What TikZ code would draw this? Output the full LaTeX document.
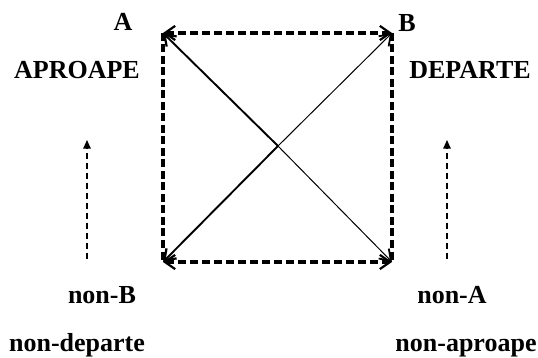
\documentclass[tikz,border=0pt]{standalone}
\usepackage{fontspec}
\setmainfont{Liberation Serif}
\usetikzlibrary{arrows.meta,positioning}
\tikzset{
  sqarr/.style={{Straight Barb[length=3.6mm,width=5mm,line width=2.2pt]}-{Straight Barb[length=3.6mm,width=5mm,line width=2.2pt]},
                black, line width=3.2pt, dash pattern=on 8pt off 4pt},
  side/.style={black, line width=3.4pt, dash pattern=on 8pt off 3.5pt},
  diagthick/.style={-{Straight Barb[length=3.6mm,width=5mm,line width=2.2pt]}, black, line width=1.9pt},
  diagthin/.style={-{Straight Barb[length=3.6mm,width=5mm,line width=1.8pt]}, black, line width=1pt},
  hint/.style={-{Triangle[length=3mm,width=2.6mm]}, black, line width=1.3pt, dash pattern=on 6pt off 4pt},
  lbl/.style={font=\bfseries\fontsize{26}{29}\selectfont, inner sep=0pt, anchor=base},
}
\begin{document}
\begin{tikzpicture}[x=1pt, y=-1pt]
    \useasboundingbox (0,0) rectangle (538,358);
    % corners of the square and its centre
    \coordinate (tl) at (163,33); \coordinate (tr) at (392,33);
    \coordinate (bl) at (163,262); \coordinate (br) at (392,262);
    \coordinate (mid) at (278,146);
    \draw[side] (tl) -- (bl);
    \draw[side] (tr) -- (br);
    \draw[sqarr] (tl) -- (tr);
    \draw[sqarr] (bl) -- (br);
    \draw[diagthick] (mid) -- (tl);
    \draw[diagthick] (mid) -- (bl);
    \draw[diagthin] (mid) -- (tr);
    \draw[diagthin] (mid) -- (br);
    % labels
    \node[lbl] (a) at (123,31) {A};
    \node[lbl] (b) at (407,32) {B};
    \node[lbl] (aproape) at (77,79) {APROAPE};
    \node[lbl] (departe) at (470,79) {DEPARTE};
    \node[lbl] (nonb) at (102,303) {non-B};
    \node[lbl] (nona) at (452,303) {non-A};
    \node[lbl] (nondep) at (77,351) {non-departe};
    \node[lbl] (nonapr) at (466,351) {non-aproape};
    % upward hints
    \coordinate (lfoot) at (87,259); \coordinate (ltip) at (87,140);
    \coordinate (rfoot) at (447,259); \coordinate (rtip) at (447,140);
    \draw[hint] (lfoot) -- (ltip);
    \draw[hint] (rfoot) -- (rtip);
  \end{tikzpicture}
\end{document}
